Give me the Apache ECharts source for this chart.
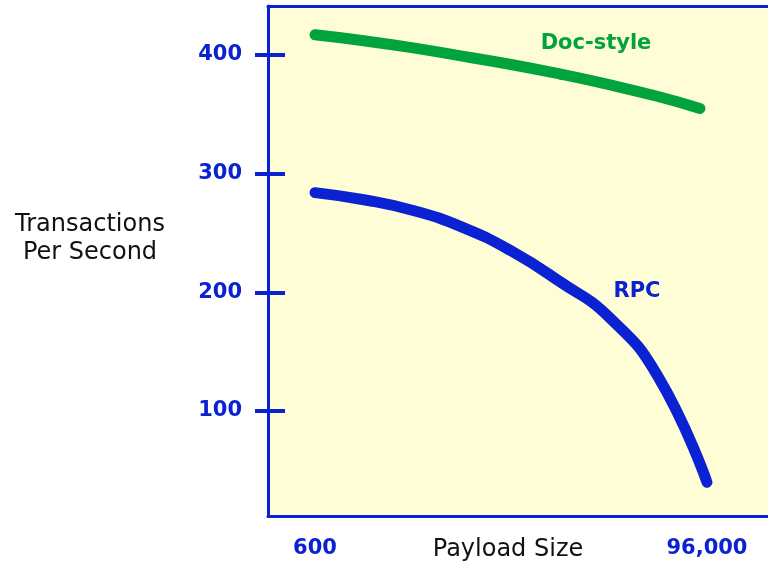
<!DOCTYPE html>
<html>
<head>
<meta charset="utf-8">
<script src="https://cdn.jsdelivr.net/npm/echarts@6/dist/echarts.min.js"></script>
<style>
  html, body { margin: 0; padding: 0; background: #fff; }
  #main { width: 768px; height: 569px; }
</style>
</head>
<body>
<div id="main"></div>
<script>
// payload size on x, transactions per second on y
var docSize = [600, 12500, 24500, 36400, 48300, 60200, 72200, 84100, 94300];
var docTps = [417, 412, 406, 399, 392, 384, 375, 365, 355];
var rpcSize = [600, 12500, 24500, 36400, 48300, 60200, 72200, 84100, 96000];
var rpcTps = [284, 278, 269, 255, 235, 209, 179, 129, 40];
var xTicks = [600, 96000];
var yTicks = [100, 200, 300, 400];

var blue = '#0a22d2';
var green = '#00a33c';
var font = '"DejaVu Sans", sans-serif';

function pairs(xs, ys) {
  return xs.map(function (x, i) { return [x, ys[i]]; });
}

var chartDom = document.getElementById('main');
var myChart = echarts.init(chartDom, null, { renderer: 'canvas' });
var option = {
  animation: false,
  grid: {
    left: 268, right: 0, top: 6, bottom: 53,
    show: true, backgroundColor: '#fffdd6', borderWidth: 0
  },
  xAxis: [
    {
      type: 'value', min: -10840, max: 110860,
      splitLine: { show: false },
      axisLine: { onZero: false, lineStyle: { color: blue, width: 3 } },
      axisTick: { show: false },
      axisLabel: {
        customValues: xTicks, margin: 22, color: blue,
        fontFamily: font, fontSize: 21, fontWeight: 'bold',
        formatter: function (v) { return v.toLocaleString('en-US'); }
      }
    },
    {
      type: 'value', position: 'top', min: -10840, max: 110860,
      splitLine: { show: false },
      axisLine: { show: true, onZero: false, lineStyle: { color: blue, width: 3 } },
      axisTick: { show: false }, axisLabel: { show: false }
    }
  ],
  yAxis: [
    {
      type: 'value', min: 11.5, max: 441.3,
      splitLine: { show: false },
      axisLine: { show: true, onZero: false, lineStyle: { color: blue, width: 3 } },
      axisTick: { customValues: yTicks, length: 13, lineStyle: { color: blue, width: 4 } },
      axisLabel: {
        customValues: yTicks, margin: 26, color: blue,
        fontFamily: font, fontSize: 21, fontWeight: 'bold'
      }
    },
    {
      type: 'value', min: 11.5, max: 441.3, position: 'left',
      splitLine: { show: false },
      axisLine: { show: false, onZero: false },
      axisTick: { show: true, inside: true, customValues: yTicks, length: 17, lineStyle: { color: blue, width: 4 } },
      axisLabel: { show: false }
    }
  ],
  series: [
    {
      name: 'Doc-style', type: 'line', smooth: true, symbol: 'none',
      data: pairs(docSize, docTps),
      lineStyle: { color: green, width: 11, cap: 'round', join: 'round' }
    },
    {
      name: 'RPC', type: 'line', smooth: true, symbol: 'none',
      data: pairs(rpcSize, rpcTps),
      lineStyle: { color: blue, width: 11, cap: 'round', join: 'round' }
    }
  ],
  graphic: [
    {
      type: 'text', x: 596, y: 44,
      style: { text: 'Doc-style', fill: green, font: 'bold 21px ' + font, align: 'center', verticalAlign: 'middle' }
    },
    {
      type: 'text', x: 637, y: 292,
      style: { text: 'RPC', fill: blue, font: 'bold 21px ' + font, align: 'center', verticalAlign: 'middle' }
    },
    {
      type: 'text', x: 508, y: 550,
      style: { text: 'Payload Size', fill: '#111', font: '24px ' + font, align: 'center', verticalAlign: 'middle' }
    },
    {
      type: 'text', x: 90, y: 225,
      style: { text: 'Transactions', fill: '#111', font: '24px ' + font, align: 'center', verticalAlign: 'middle' }
    },
    {
      type: 'text', x: 90, y: 253,
      style: { text: 'Per Second', fill: '#111', font: '24px ' + font, align: 'center', verticalAlign: 'middle' }
    }
  ]
};
option && myChart.setOption(option);
</script>
</body>
</html>
